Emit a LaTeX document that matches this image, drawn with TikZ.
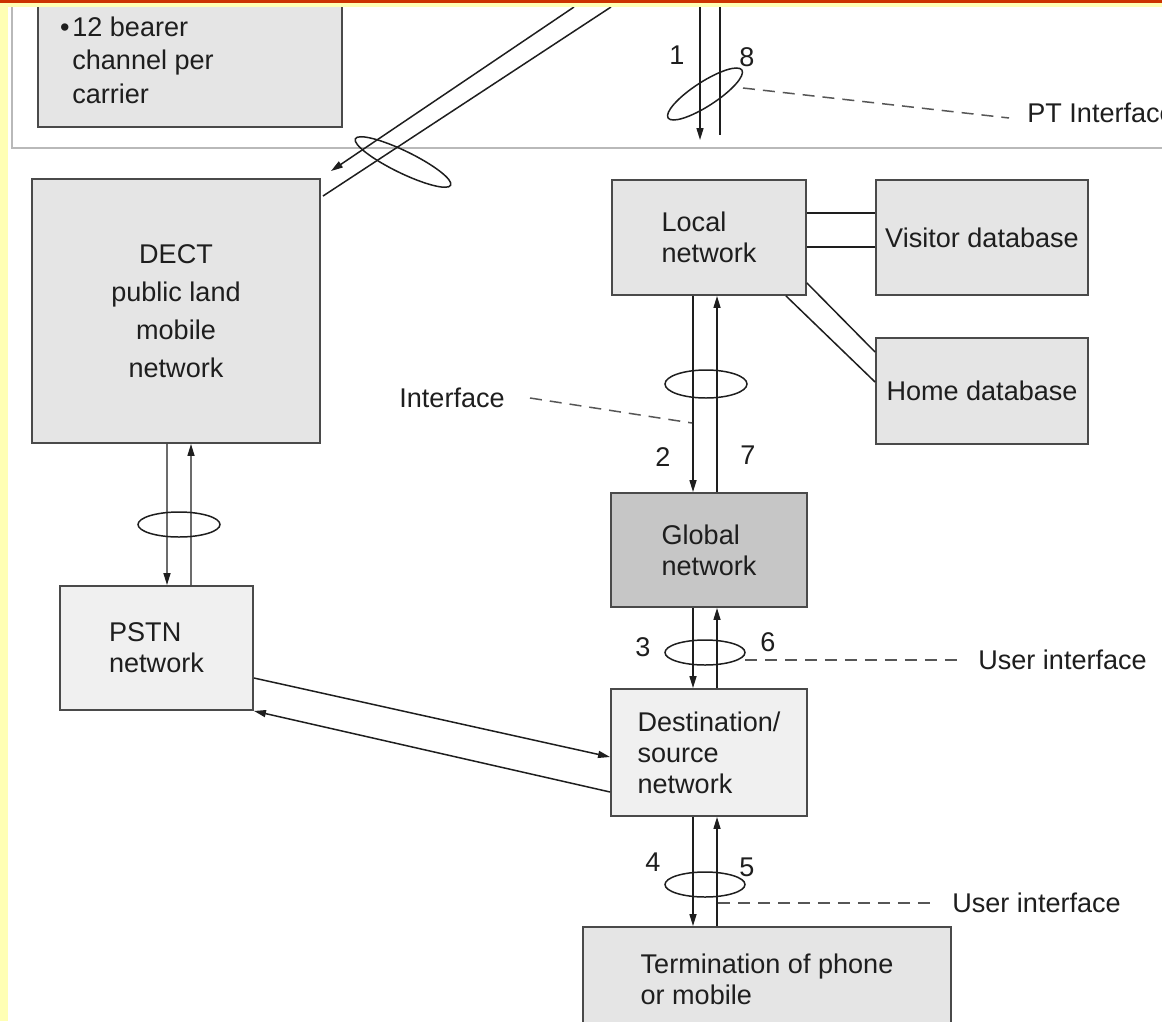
\documentclass[tikz,border=0pt]{standalone}
\usepackage{fontspec}
\setmainfont{Liberation Sans}
\usetikzlibrary{positioning,arrows.meta}

\definecolor{frameorange}{HTML}{CC3300}
\definecolor{frameyellow}{HTML}{FFFFB4}
\definecolor{boxline}{HTML}{4A4A4A}
\definecolor{ink}{HTML}{1E1E1E}

\begin{document}
\begin{tikzpicture}[
    x=0.02cm, y=-0.02cm, % one unit = one pixel of the sketch
    font=\fontsize{15.4}{17.6}\selectfont,
    netbox/.style={rectangle, draw=boxline, line width=1.1pt, fill=gray!20, align=left, inner sep=0pt, text=ink}, % network boxes
    link/.style={draw=ink, line width=0.85pt}, % plain links
    arrow/.style={link, -{Triangle[length=2.4mm,width=1.4mm]}}, % signal arrows
    loop/.style={draw=ink, line width=0.85pt}, % interface rings
    leader/.style={draw=ink!75, line width=0.85pt, dash pattern=on 2.4mm off 1.6mm}, % dashed pointers
    lbl/.style={inner sep=0pt, text=ink} % free text
    ]

    \useasboundingbox (0,0) rectangle (1162,1021);
    \fill[white] (0,0) rectangle (1162,1021);

    % Upper part (radio side)
    \node[netbox, minimum width=6.08cm, minimum height=3.74cm] (bearer) at (190,33.5) {};
    \node[lbl, anchor=base west, align=left, font=\fontsize{15.4}{18.8}\selectfont] (bearertext) at (72,103)
        {\llap{\textbullet\hspace{1.5pt}}12 bearer\\channel per\\carrier};
    \draw[gray!55, line width=1.2pt] (12,7) -- (12,148) -- (1162,148);

    % Networks
    \node[netbox, align=center, minimum width=5.76cm, minimum height=5.28cm,
          font=\fontsize{15.4}{21.6}\selectfont] (dect) at (176,311) {DECT\\public land\\mobile\\network};
    \node[netbox, fill=gray!12, minimum width=3.86cm, minimum height=2.48cm] (pstn) at (156.5,648) {PSTN\\network};
    \node[netbox, minimum width=3.88cm, minimum height=2.3cm] (local) at (709,237.5) {Local\\network};
    \node[netbox, align=center, minimum width=4.24cm, minimum height=2.3cm] (visitor) at (982,237.5) {Visitor database};
    \node[netbox, align=center, minimum width=4.24cm, minimum height=2.12cm] (home) at (982,391) {Home database};
    \node[netbox, fill=gray!45, minimum width=3.92cm, minimum height=2.28cm] (global) at (709,550) {Global\\network};
    \node[netbox, fill=gray!12, minimum width=3.92cm, minimum height=2.54cm] (dest) at (709,752.5) {Destination/\\source\\network};
    \node[netbox, minimum width=7.36cm, minimum height=2.08cm] (term) at (767,979) {Termination of phone\\or mobile};

    % Free ends of the radio links
    \coordinate (radioA) at (574,7);
    \coordinate (radioB) at (611,7);
    \coordinate (ptdown) at (700,7);
    \coordinate (ptdownend) at (700,140);
    \coordinate (ptup) at (720,7);
    \coordinate (ptupend) at (720,135);

    % Radio links
    \draw[arrow] (radioA) -- ([shift={(10,-7)}]dect.north east);
    \draw[link] (radioB) -- ([shift={(2,18)}]dect.north east);
    \draw[arrow] (ptdown) -- (ptdownend);
    \draw[link] (ptup) -- (ptupend);

    % DECT <-> PSTN
    \draw[arrow] ([shift={(-9,0)}]dect.south) -- ([shift={(10.5,0)}]pstn.north);
    \draw[arrow] ([shift={(34.5,0)}]pstn.north) -- ([shift={(15,0)}]dect.south);

    % PSTN <-> destination
    \draw[arrow] ([shift={(0,30)}]pstn.east) -- ([shift={(0,4.5)}]dest.west);
    \draw[arrow] ([shift={(0,39.5)}]dest.west) -- (pstn.south east);

    % Local network and databases
    \draw[link] ([shift={(0,-24.5)}]local.east) -- ([shift={(0,-24.5)}]visitor.west);
    \draw[link] ([shift={(0,9.5)}]local.east) -- ([shift={(0,9.5)}]visitor.west);
    \draw[link] ([shift={(0,45.5)}]local.east) -- ([shift={(0,-39)}]home.west);
    \draw[link] ([shift={(77,0)}]local.south) -- ([shift={(0,-9)}]home.west);

    % Vertical chain
    \draw[arrow] ([shift={(-16,0)}]local.south) -- ([shift={(-16,0)}]global.north);
    \draw[arrow] ([shift={(8,0)}]global.north) -- ([shift={(8,0)}]local.south);
    \draw[arrow] ([shift={(-16,0)}]global.south) -- ([shift={(-16,0)}]dest.north);
    \draw[arrow] ([shift={(8,0)}]dest.north) -- ([shift={(8,0)}]global.south);
    \draw[arrow] ([shift={(-16,0)}]dest.south) -- ([shift={(-74,0)}]term.north);
    \draw[arrow] ([shift={(-50,0)}]term.north) -- ([shift={(8,0)}]dest.south);

    % Interface rings
    \draw[loop, rotate around={-26:(403,162)}] (403,162) ellipse [x radius=53, y radius=11];
    \draw[loop, rotate around={33:(705,94)}] (705,94) ellipse [x radius=44, y radius=12];
    \draw[loop] (179,524.5) ellipse [x radius=41, y radius=12.5];
    \draw[loop] (706,384) ellipse [x radius=41, y radius=14];
    \draw[loop] (705,652.5) ellipse [x radius=40, y radius=12.5];
    \draw[loop] (705,884.5) ellipse [x radius=40, y radius=12.5];

    % Link numbers
    \node[lbl] (n1) at (677,55) {1};
    \node[lbl] (n8) at (747,57) {8};
    \node[lbl] (n2) at (663,457) {2};
    \node[lbl] (n7) at (748,455) {7};
    \node[lbl] (n3) at (643,647) {3};
    \node[lbl] (n6) at (768,642) {6};
    \node[lbl] (n4) at (653,862) {4};
    \node[lbl] (n5) at (747,867) {5};

    % Interface labels
    \node[lbl, anchor=west] (ptlabel) at (1027,113) {PT Interface};
    \node[lbl, anchor=east] (iflabel) at (505,398) {Interface};
    \node[lbl, anchor=west] (uilabelA) at (978,660) {User interface};
    \node[lbl, anchor=west] (uilabelB) at (952,903) {User interface};

    \coordinate (ptring) at (743,88);
    \coordinate (ifline) at (692,423);
    \coordinate (uiringA) at (745,660);
    \coordinate (uilineB) at (718,903);

    \draw[leader] (ptring) -- ([shift={(-18,5)}]ptlabel.west);
    \draw[leader] ([shift={(25,0)}]iflabel.east) -- (ifline);
    \draw[leader] (uiringA) -- ([shift={(-21,0)}]uilabelA.west);
    \draw[leader] (uilineB) -- ([shift={(-17,0)}]uilabelB.west);

    % Slide border
    \fill[frameyellow] (0,0) rectangle (8,1021);
    \fill[frameyellow] (0,0) rectangle (1162,7);
    \fill[frameorange] (0,0) rectangle (1162,2.5);

\end{tikzpicture}
\end{document}
